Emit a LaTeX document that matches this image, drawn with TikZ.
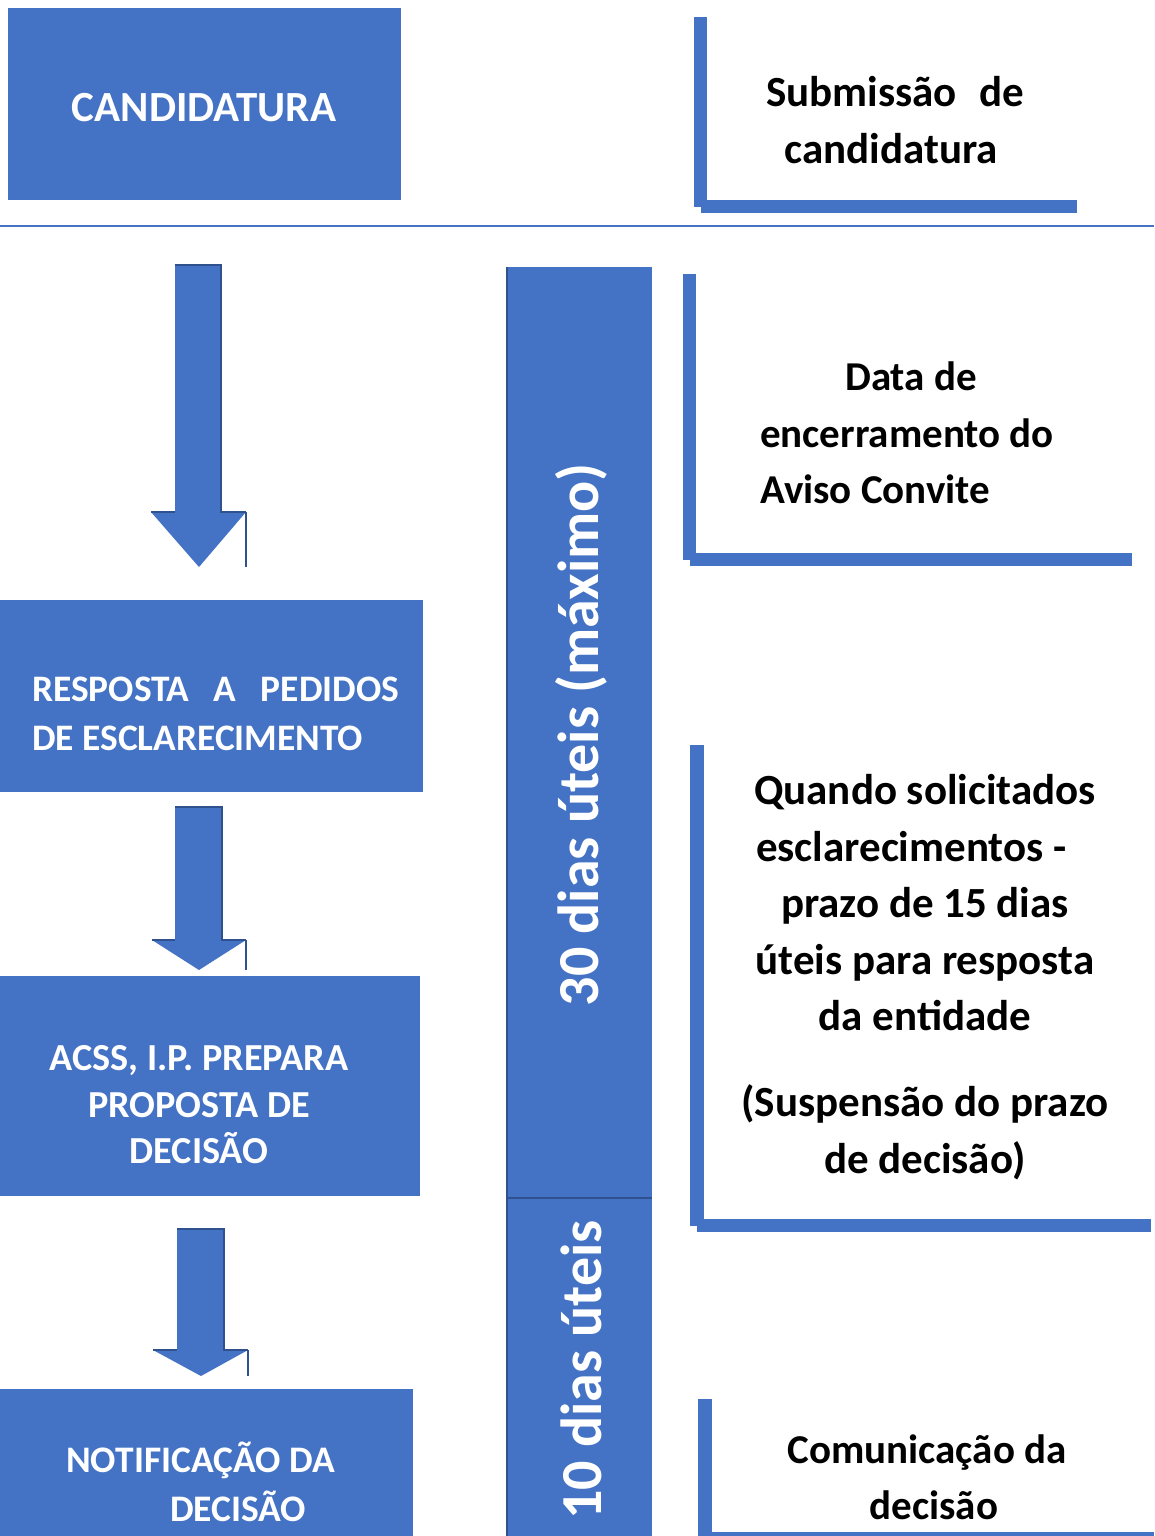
\documentclass[tikz,border=0pt]{standalone}
\usepackage{fontspec}
\setmainfont{Carlito}
\definecolor{ofblue}{HTML}{4472C4}
\definecolor{ofdark}{HTML}{2F528F}
\begin{document}
\begin{tikzpicture}[x=1pt,y=-1pt,
  blockfill/.style={fill=ofblue, draw=none},
  wtext/.style={text=white, inner sep=0pt},
  btext/.style={text=black, inner sep=0pt},
  fR/.style={font={\fontsize{41}{56.5}\selectfont\bfseries}},
  fRb/.style={font={\fontsize{43}{56.5}\selectfont\bfseries}},
  fV/.style={font={\fontsize{58}{70}\selectfont\bfseries}}
]
\useasboundingbox (0,0) rectangle (1154,1536);
\fill[white] (0,0) rectangle (1154,1536);

% separator line
\draw[ofblue, line width=1.5pt] (0,226) -- (1154,226);

% left boxes
\fill[blockfill] (8,8) rectangle (401,200);
\node[wtext, font={\fontsize{43}{50}\selectfont\bfseries}] (cand) at (204,108) {CANDIDATURA};

\fill[blockfill] (0,600) rectangle (423,792);
\node[wtext, font={\fontsize{37.4}{49}\selectfont\bfseries}, align=left, anchor=west] (resp) at (32,714)
  {\makebox[367pt][s]{RESPOSTA\hfill A\hfill PEDIDOS}\\DE ESCLARECIMENTO};

\fill[blockfill] (0,976) rectangle (420,1196);
\node[wtext, font={\fontsize{38.2}{46.5}\selectfont\bfseries}, align=center] (acss) at (199,1105)
  {ACSS, I.P. PREPARA\\PROPOSTA DE\\DECISÃO};

\fill[blockfill] (0,1389) rectangle (413,1536);
\node[wtext, font={\fontsize{37.5}{49}\selectfont\bfseries}, align=left, anchor=west] (notif) at (66,1482)
  {NOTIFICAÇÃO DA\\\hspace*{104pt}DECISÃO};

% arrows
\foreach \sl/\sr/\st/\hy/\hl/\hr/\tx/\ty in {175/221/265/512/151/246/199/567, 175/222/807/940/152/246/199/970, 177/224/1229/1350/153/248/201/1376}{
  \fill[ofblue] (\sl,\st) -- (\sr,\st) -- (\sr,\hy) -- (\hr,\hy) -- (\tx,\ty) -- (\hl,\hy) -- (\sl,\hy) -- cycle;
  \draw[ofdark, line width=1.3pt] (\sl,\st) -- (\sr,\st) -- (\sr,\hy) -- (\hr,\hy);
  \draw[ofdark, line width=1.3pt] (\hl,\hy) -- (\sl,\hy);
  \draw[ofdark, line width=1.6pt] (\hr,\hy) -- (\hr,\ty);
}

% vertical time bar
\fill[blockfill] (506,267) rectangle (652,1536);
\draw[ofdark, line width=2pt] (507,267) -- (507,1536);
\draw[ofdark, line width=2pt] (506,1198) -- (652,1198);
\node[wtext, fV, rotate=90] (d30) at (581,735) {30 dias úteis (máximo)};
\node[wtext, fV, rotate=90] (d10) at (581,1370) {10 dias úteis};

% brackets on the right
\fill[ofblue] (694,17) rectangle (707,207);
\fill[ofblue] (701,200) rectangle (1077,213);
\fill[ofblue] (683,274) rectangle (696,560);
\fill[ofblue] (690,553) rectangle (1132,566);
\fill[ofblue] (690,745) rectangle (704,1226);
\fill[ofblue] (697,1219) rectangle (1151,1232);
\fill[ofblue] (698,1399) rectangle (712,1536);
\fill[ofblue] (705,1532) rectangle (1154,1536);

% right texts
\node[btext, fRb, align=center] (sub) at (895,120)
  {\makebox[258pt][s]{Submissão\hfill de}\\\hspace*{-8pt}candidatura};
\node[btext, fR, align=left, anchor=west] (data) at (760,433)
  {\hspace*{85pt}Data de\\encerramento do\\Aviso Convite};
\node[btext, fRb, align=center] (quando) at (925,977)
  {Quando solicitados\\\makebox[338pt][l]{esclarecimentos -}\\prazo de 15 dias\\úteis para resposta\\da entidade\\[29.5pt](Suspensão do prazo\\de decisão)};
\node[btext, fR, align=center] (comun) at (927,1477)
  {Comunicação da\\\hspace*{14pt}decisão};
\end{tikzpicture}
\end{document}
